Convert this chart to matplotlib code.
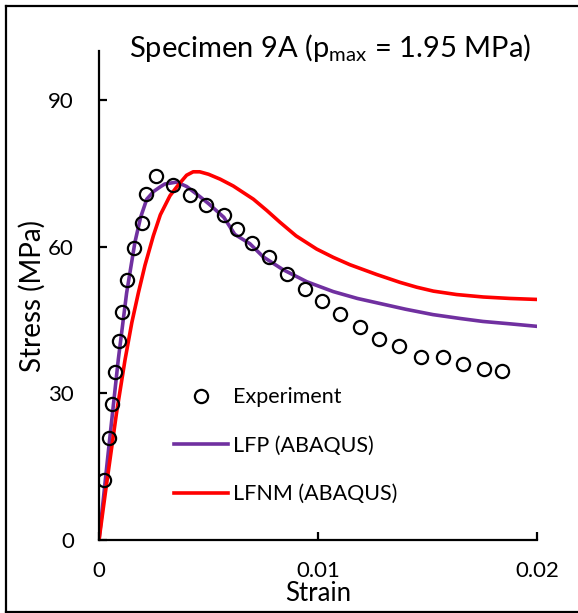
import matplotlib
matplotlib.use("Agg")
import matplotlib.pyplot as plt
from matplotlib.lines import Line2D

plt.rcParams['font.family'] = ['Lato', 'DejaVu Sans']

# Experimental data
exp_strain = [0.00023, 0.00046, 0.00059, 0.00073, 0.00091, 0.00105, 0.00128, 0.00160,
              0.00196, 0.00215, 0.00260, 0.00338, 0.00416, 0.00489, 0.00570, 0.00630,
              0.00700, 0.00776, 0.00858, 0.00940, 0.01020, 0.01100, 0.01190, 0.01280,
              0.01370, 0.01470, 0.01570, 0.01660, 0.01760, 0.01840]
exp_stress = [12.3, 20.9, 27.9, 34.4, 40.6, 46.7, 53.1, 59.7,
              64.8, 70.7, 74.4, 72.6, 70.5, 68.5, 66.4, 63.6,
              60.7, 57.8, 54.5, 51.3, 48.8, 46.3, 43.5, 41.2,
              39.6, 37.5, 37.5, 36.1, 34.9, 34.6]

# LFP (ABAQUS)
lfp_strain = [0.0, 0.0004, 0.00088, 0.00126, 0.00164, 0.0019, 0.00218, 0.0025, 0.00279,
              0.0030, 0.00355, 0.0040, 0.0045, 0.0050, 0.0057, 0.0062, 0.00689, 0.0075,
              0.0084, 0.0095, 0.0107, 0.0118, 0.0130, 0.0140, 0.01525, 0.0165, 0.01753,
              0.0188, 0.0200]
lfp_stress = [0.0, 17.0, 36.9, 50.5, 60.9, 66.0, 69.7, 71.3, 72.2,
              72.8, 73.2, 72.3, 70.6, 68.8, 66.0, 62.5, 60.6, 57.9,
              55.3, 52.8, 50.8, 49.4, 48.2, 47.2, 46.1, 45.3, 44.7,
              44.2, 43.7]

# LFNM (ABAQUS)
lfnm_strain = [0.0, 0.0003, 0.0005, 0.0008, 0.00119, 0.0015, 0.0018, 0.0021, 0.00248,
               0.0028, 0.00324, 0.0036, 0.0040, 0.0043, 0.0046, 0.0050, 0.00553, 0.00613,
               0.00705, 0.00766, 0.00826, 0.0090, 0.00994, 0.0107, 0.01146, 0.01268,
               0.01374, 0.01451, 0.01527, 0.01633, 0.01755, 0.01877, 0.0200]
lfnm_stress = [0.0, 10.0, 16.4, 26.0, 36.9, 44.5, 50.6, 56.2, 62.2,
               66.5, 70.4, 72.5, 74.6, 75.3, 75.3, 74.8, 73.8, 72.4,
               69.7, 67.4, 65.0, 62.2, 59.5, 57.8, 56.3, 54.3, 52.7,
               51.7, 50.9, 50.2, 49.7, 49.4, 49.2]

x_ticks = [0, 0.01, 0.02]
x_tick_labels = ['0', '0.01', '0.02']
y_ticks = [0, 30, 60, 90]

fig = plt.figure(figsize=(5.78, 6.13), dpi=100)
ax = fig.add_axes([0.1713, 0.119, 0.929 - 0.1713, 0.9168 - 0.119])

purple = '#7030A0'
red = '#FF0000'
ax.plot(lfp_strain, lfp_stress, color=purple, lw=2.6, zorder=2, solid_joinstyle='round')
ax.plot(lfnm_strain, lfnm_stress, color=red, lw=2.6, zorder=2, solid_joinstyle='round')
ax.plot(exp_strain, exp_stress, linestyle='none', marker='o', markersize=9.5,
        markerfacecolor='none', markeredgecolor='black', markeredgewidth=1.6, zorder=3)

ax.set_xlim(0, 0.02)
ax.set_ylim(0, 100)
ax.set_xticks(x_ticks)
ax.set_xticklabels(x_tick_labels)
ax.set_yticks(y_ticks)
for s in ['top', 'right']:
    ax.spines[s].set_visible(False)
for s in ['left', 'bottom']:
    ax.spines[s].set_linewidth(1.6)
ax.tick_params(direction='in', length=6, width=1.6, labelsize=16)
ax.tick_params(axis='x', pad=15)
ax.tick_params(axis='y', pad=18)

ax.set_xlabel('Strain', fontsize=18.5, labelpad=0)
ax.set_ylabel('Stress (MPa)', fontsize=20, labelpad=2)

fig.text(0.571, 0.922, r'Specimen 9A (p$_{\mathregular{max}}$ = 1.95 MPa)', fontsize=21,
         ha='center', va='center')

handles = [
    Line2D([], [], linestyle='none', marker='o', markersize=9.5, markerfacecolor='none',
           markeredgecolor='black', markeredgewidth=1.6),
    Line2D([], [], color=purple, lw=2.6),
    Line2D([], [], color=red, lw=2.6),
]
labels = ['Experiment', 'LFP (ABAQUS)', 'LFNM (ABAQUS)']
ax.legend(handles, labels, loc='upper left', bbox_to_anchor=(0.151, 0.33),
          frameon=False, fontsize=15.5, handlelength=2.5, handletextpad=0.25,
          labelspacing=1.32, borderaxespad=0)

# Figure border (left, top, bottom)
fx0, fx1 = 6 / 578, 577 / 578
fy0, fy1 = 1 - 611.5 / 613, 1 - 5.5 / 613
fig.add_artist(Line2D([fx0, fx0], [fy0, fy1], color='black', lw=1.6, transform=fig.transFigure))
fig.add_artist(Line2D([fx0, fx1], [fy1, fy1], color='black', lw=1.6, transform=fig.transFigure))
fig.add_artist(Line2D([fx0, fx1], [fy0, fy0], color='black', lw=1.6, transform=fig.transFigure))

fig.savefig('out.png', dpi=100)
